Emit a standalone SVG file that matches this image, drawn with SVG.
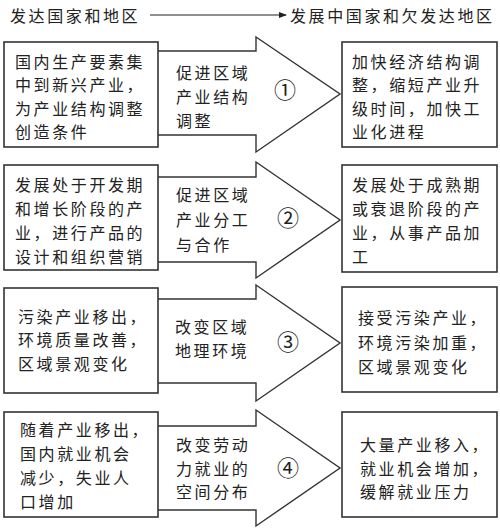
<svg xmlns="http://www.w3.org/2000/svg" width="500" height="531" viewBox="0 0 500 531">
<style>
text{font-family:"Noto Sans CJK SC","Noto Sans CJK JP",sans-serif;font-size:16px;fill:#222;letter-spacing:2.6px}
.box{fill:#fff;stroke:#333;stroke-width:1.6}
.arr{fill:#fff;stroke:#333;stroke-width:1.4}
.num{font-size:22px;text-anchor:middle;letter-spacing:0}
</style>
<defs>
<marker id="ah" markerWidth="8" markerHeight="6" refX="7" refY="3" orient="auto" markerUnits="userSpaceOnUse">
<path d="M0,0 L8,3 L0,6 Z" fill="#222"/>
</marker>
</defs>
<rect width="500" height="531" fill="#fff"/>
<g id="header">
<text x="10" y="22">发达国家和地区</text>
<text x="290" y="22">发展中国家和欠发达地区</text>
</g>
<g id="connectors">
<line x1="150" y1="15" x2="286" y2="15" stroke="#222" stroke-width="1.2" marker-end="url(#ah)"/>
<polygon class="arr" points="157,51 256,51 256,37 340,94 256,152 256,135 157,135"/>
<polygon class="arr" points="157,177 256,177 256,162 340,220 256,278 256,262 157,262"/>
<polygon class="arr" points="157,299 256,299 256,285 340,343 256,401 256,383 157,383"/>
<polygon class="arr" points="157,426 256,426 256,410 340,468 256,526 256,510 157,510"/>
</g>
<g id="row1-left">
<rect class="box" x="4" y="42" width="154" height="105"/>
<text x="15" y="67.5">国内生产要素集</text>
<text x="15" y="91">中到新兴产业，</text>
<text x="15" y="114.5">为产业结构调整</text>
<text x="15" y="138">创造条件</text>
</g>
<g id="row1-mid">
<text x="176" y="79">促进区域</text>
<text x="176" y="103">产业结构</text>
<text x="176" y="127">调整</text>
<text class="num" x="285" y="98">①</text>
</g>
<g id="row1-right">
<rect class="box" x="342" y="42" width="155" height="105"/>
<text x="352" y="67.5">加快经济结构调</text>
<text x="352" y="91">整，缩短产业升</text>
<text x="352" y="114.5">级时间，加快工</text>
<text x="352" y="138">业化进程</text>
</g>
<g id="row2-left">
<rect class="box" x="4" y="165" width="154" height="105"/>
<text x="15" y="191">发展处于开发期</text>
<text x="15" y="215">和增长阶段的产</text>
<text x="15" y="239">业，进行产品的</text>
<text x="15" y="263">设计和组织营销</text>
</g>
<g id="row2-mid">
<text x="176" y="201">促进区域</text>
<text x="176" y="226">产业分工</text>
<text x="176" y="251">与合作</text>
<text class="num" x="288" y="226">②</text>
</g>
<g id="row2-right">
<rect class="box" x="342" y="165" width="155" height="107"/>
<text x="352" y="191">发展处于成熟期</text>
<text x="352" y="215">或衰退阶段的产</text>
<text x="352" y="239">业，从事产品加</text>
<text x="352" y="263">工</text>
</g>
<g id="row3-left">
<rect class="box" x="4" y="288" width="154" height="105"/>
<text x="18" y="322.5">污染产业移出，</text>
<text x="18" y="346">环境质量改善，</text>
<text x="18" y="369.5">区域景观变化</text>
</g>
<g id="row3-mid">
<text x="175" y="333">改变区域</text>
<text x="175" y="357">地理环境</text>
<text class="num" x="288" y="350">③</text>
</g>
<g id="row3-right">
<rect class="box" x="342" y="287" width="155" height="105"/>
<text x="358" y="324">接受污染产业，</text>
<text x="358" y="349">环境污染加重，</text>
<text x="358" y="373">区域景观变化</text>
</g>
<g id="row4-left">
<rect class="box" x="4" y="412" width="154" height="105"/>
<text x="20" y="436">随着产业移出，</text>
<text x="20" y="460">国内就业机会</text>
<text x="20" y="484">减少，失业人</text>
<text x="20" y="508">口增加</text>
</g>
<g id="row4-mid">
<text x="176" y="451">改变劳动</text>
<text x="176" y="474.5">力就业的</text>
<text x="176" y="498">空间分布</text>
<text class="num" x="288" y="476">④</text>
</g>
<g id="row4-right">
<rect class="box" x="342" y="412" width="155" height="105"/>
<text x="360" y="451">大量产业移入，</text>
<text x="360" y="474.5">就业机会增加，</text>
<text x="360" y="498">缓解就业压力</text>
</g>
</svg>
